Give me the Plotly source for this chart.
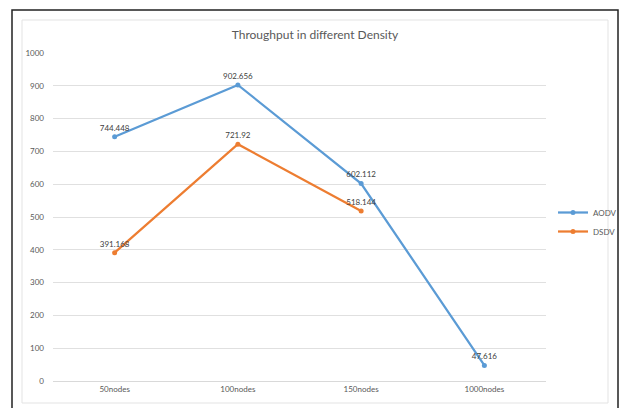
import plotly.graph_objects as go

# Chart data
categories = ["50nodes", "100nodes", "150nodes", "1000nodes"]
aodv = [744.448, 902.656, 602.112, 47.616]
dsdv = [391.168, 721.92, 518.144]
y_ticks = [0, 100, 200, 300, 400, 500, 600, 700, 800, 900, 1000]

W, H = 619, 408
L, R, T, B = 53, 73, 53, 27
PW, PH = W - L - R, H - T - B

def px_x(px):
    return (px - L) / PW

def px_y(py):
    return (H - B - py) / PH

FONT = "Lato"
fig = go.Figure()

fig.add_trace(go.Scatter(
    x=categories, y=aodv, name="AODV", mode="lines+markers+text",
    line=dict(color="#5B9BD5", width=2.25),
    marker=dict(color="#5B9BD5", size=5),
    text=[f"{v:g}" for v in aodv], textposition="top center",
    textfont=dict(family=FONT, size=8, color="#404040"),
    cliponaxis=False,
))
fig.add_trace(go.Scatter(
    x=categories[:len(dsdv)], y=dsdv, name="DSDV", mode="lines+markers+text",
    line=dict(color="#ED7D31", width=2.25),
    marker=dict(color="#ED7D31", size=5),
    text=[f"{v:g}" for v in dsdv], textposition="top center",
    textfont=dict(family=FONT, size=8, color="#404040"),
    cliponaxis=False,
))

shapes = [
    # outer dark frame
    dict(type="rect", xref="paper", yref="paper",
         x0=px_x(12), x1=px_x(618), y0=px_y(412), y1=px_y(10),
         line=dict(color="#222222", width=1.5), layer="below"),
    # inner chart-area border
    dict(type="rect", xref="paper", yref="paper",
         x0=px_x(22), x1=px_x(608), y0=px_y(403), y1=px_y(20),
         line=dict(color="#e3e3e3", width=1), layer="below"),
]

fig.update_layout(
    width=W, height=H,
    margin=dict(l=L, r=R, t=T, b=B, autoexpand=False),
    paper_bgcolor="white", plot_bgcolor="white",
    font=dict(family=FONT, color="#595959"),
    title=dict(text="Throughput in different Density", x=px_x(315), xref="paper",
               xanchor="center", y=1 - 35 / H, yanchor="middle",
               font=dict(family=FONT, size=12, color="#595959")),
    shapes=shapes,
    showlegend=True,
    legend=dict(x=px_x(553), y=px_y(222), xanchor="left", yanchor="middle",
                font=dict(family=FONT, size=8, color="#595959"),
                bgcolor="rgba(0,0,0,0)", itemwidth=30, tracegroupgap=2),
    xaxis=dict(type="category", range=[-0.5, 3.5], showgrid=False,
               showline=True, linecolor="#d9d9d9", linewidth=1,
               ticks="", tickfont=dict(family=FONT, size=8, color="#595959"),
               fixedrange=True),
    yaxis=dict(range=[0, 1000], tickvals=y_ticks, showgrid=True,
               gridcolor="#e0e0e0", gridwidth=1, zeroline=False,
               showline=False, ticks="", ticklabelstandoff=8,
               tickfont=dict(family=FONT, size=8, color="#595959"),
               fixedrange=True),
)

fig.write_html("out.html")
